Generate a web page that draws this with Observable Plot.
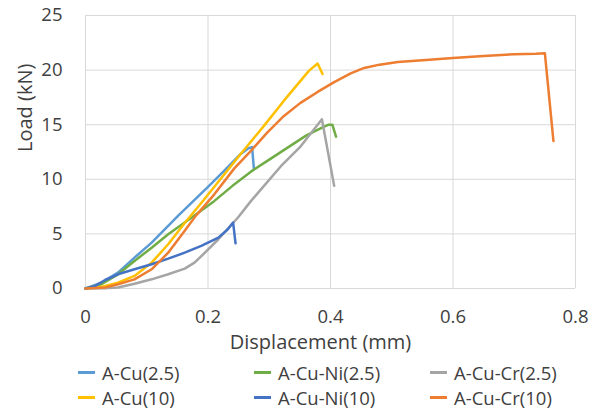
<!DOCTYPE html>
<html>
<head>
<meta charset="utf-8">
<script src="https://cdn.jsdelivr.net/npm/d3@7"></script>
<script src="https://cdn.jsdelivr.net/npm/@observablehq/plot@0.6"></script>
<style>
  html, body { margin: 0; padding: 0; background: #fff; }
  body { width: 596px; height: 412px; overflow: hidden; font-family: "Open Sans", sans-serif; }
  #legend { position: relative; height: 52px; }
  .item { position: absolute; display: flex; align-items: center; font-size: 18.5px; color: #404040; white-space: nowrap; height: 25px; }
  .sw { width: 17px; height: 2.6px; margin-right: 7px; }
</style>
</head>
<body>
<div id="chart"></div>
<div id="legend"></div>
<script>
// Series names and colours
const seriesNames = ["A-Cu(2.5)", "A-Cu-Ni(2.5)", "A-Cu-Cr(2.5)", "A-Cu(10)", "A-Cu-Ni(10)", "A-Cu-Cr(10)"];
const seriesColors = ["#5B9BD5", "#70AD47", "#A5A5A5", "#FFC000", "#4472C4", "#ED7D31"];

// Axis ticks
const xTicks = [0, 0.2, 0.4, 0.6, 0.8];
const yTicks = [0, 5, 10, 15, 20, 25];

// A-Cu(2.5)
const cu25X = [0, 0.026, 0.053, 0.08, 0.108, 0.135, 0.151, 0.2, 0.225, 0.253, 0.266, 0.272, 0.275];
const cu25Y = [0, 0.53, 1.45, 2.83, 4.2, 5.73, 6.65, 9.3, 10.7, 12.3, 12.85, 12.95, 10.9];
// A-Cu-Ni(2.5)
const cuNi25X = [0, 0.026, 0.053, 0.08, 0.108, 0.135, 0.162, 0.21, 0.24, 0.27, 0.3, 0.33, 0.36, 0.387, 0.397, 0.403, 0.409];
const cuNi25Y = [0, 0.39, 1.3, 2.52, 3.74, 4.97, 6.04, 8.0, 9.4, 10.7, 11.8, 12.9, 14.0, 14.75, 15.0, 15.0, 13.9];
// A-Cu-Cr(2.5)
const cuCr25X = [0, 0.03, 0.053, 0.08, 0.108, 0.135, 0.162, 0.178, 0.195, 0.217, 0.249, 0.27, 0.319, 0.351, 0.386, 0.406];
const cuCr25Y = [0, 0.03, 0.1, 0.44, 0.84, 1.3, 1.82, 2.37, 3.28, 4.51, 6.5, 8.0, 11.2, 13.0, 15.5, 9.4];
// A-Cu(10)
const cu10X = [0, 0.026, 0.053, 0.08, 0.108, 0.135, 0.162, 0.19, 0.21, 0.253, 0.29, 0.324, 0.365, 0.379, 0.387];
const cu10Y = [0, 0.15, 0.53, 1.15, 2.37, 4.05, 6.0, 7.9, 9.3, 12.3, 14.8, 17.2, 19.95, 20.6, 19.65];
// A-Cu-Ni(10)
const cuNi10X = [0, 0.015, 0.032, 0.053, 0.08, 0.108, 0.135, 0.162, 0.189, 0.217, 0.232, 0.241, 0.245];
const cuNi10Y = [0, 0.2, 0.78, 1.3, 1.76, 2.22, 2.73, 3.28, 3.9, 4.66, 5.4, 6.04, 4.14];
// A-Cu-Cr(10)
const cuCr10X = [0, 0.033, 0.053, 0.08, 0.108, 0.135, 0.162, 0.18, 0.21, 0.243, 0.27, 0.297, 0.324, 0.351, 0.379, 0.406, 0.433, 0.455, 0.48, 0.51, 0.55, 0.6, 0.65, 0.7, 0.735, 0.75, 0.764];
const cuCr10Y = [0, 0.1, 0.39, 0.84, 1.76, 3.28, 5.28, 6.65, 8.6, 11.0, 12.6, 14.3, 15.8, 17.0, 18.0, 18.9, 19.7, 20.2, 20.5, 20.75, 20.9, 21.1, 21.3, 21.45, 21.5, 21.55, 13.5];

const seriesXs = [cu25X, cuNi25X, cuCr25X, cu10X, cuNi10X, cuCr10X];
const seriesYs = [cu25Y, cuNi25Y, cuCr25Y, cu10Y, cuNi10Y, cuCr10Y];

const rows = [];
seriesNames.forEach((name, i) => {
  seriesXs[i].forEach((x, j) => rows.push({series: name, x, y: seriesYs[i][j]}));
});

const chart = Plot.plot({
  width: 596,
  height: 360,
  marginLeft: 85,
  marginRight: 21,
  marginTop: 15,
  marginBottom: 72,
  style: {fontFamily: "'Open Sans', sans-serif", fontSize: "19px", color: "#404040", background: "#fff"},
  x: {domain: [0, 0.8], ticks: xTicks, tickFormat: d => String(d), tickSize: 0, tickPadding: 21, label: null},
  y: {domain: [0, 25], ticks: yTicks, tickSize: 0, tickPadding: 23, label: null},
  color: {domain: seriesNames, range: seriesColors},
  marks: [
    Plot.gridX(xTicks, {stroke: "#d9d9d9", strokeOpacity: 1, strokeWidth: 1}),
    Plot.gridY(yTicks, {stroke: "#d9d9d9", strokeOpacity: 1, strokeWidth: 1}),
    Plot.axisX({ticks: xTicks, tickFormat: d => String(d), tickSize: 0, tickPadding: 21, fontSize: 18.5, label: null}),
    Plot.axisY({ticks: yTicks, tickSize: 0, tickPadding: 23, fontSize: 18.5, label: null}),
    Plot.line(rows, {x: "x", y: "y", z: "series", stroke: "series", strokeWidth: 2.5, strokeLinejoin: "round", strokeLinecap: "round"}),
    Plot.text(["Displacement (mm)"], {frameAnchor: "bottom", dx: -10, dy: 60, fontSize: 20, fill: "#404040"}),
    Plot.text(["Load (kN)"], {frameAnchor: "left", dx: -60, rotate: -90, fontSize: 20, fill: "#404040"})
  ]
});
document.getElementById("chart").appendChild(chart);

// Legend (3 columns x 2 rows)
const legend = document.getElementById("legend");
seriesNames.forEach((name, i) => {
  const col = i % 3, row = Math.floor(i / 3);
  const it = document.createElement("div");
  it.className = "item";
  it.style.left = (430 - (2 - col) * 176) + "px";
  it.style.top = (row * 25) + "px";
  const sw = document.createElement("span");
  sw.className = "sw";
  sw.style.background = seriesColors[i];
  const tx = document.createElement("span");
  tx.textContent = name;
  it.appendChild(sw);
  it.appendChild(tx);
  legend.appendChild(it);
});
</script>
</body>
</html>
